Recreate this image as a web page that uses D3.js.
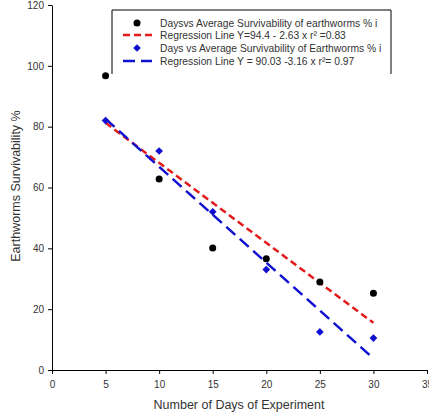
<html>
<head>
<meta charset="utf-8">
<title>Earthworm survivability</title>
<script src="https://d3js.org/d3.v7.min.js"></script>
<style>
  body { margin: 0; background: #fff; }
  text { font-family: "Liberation Sans", Arial, sans-serif; fill: #333; }
</style>
</head>
<body>
<svg width="429" height="414"></svg>
<script>
// data
var days = [5, 10, 15, 20, 25, 30];
var survLower = [96.7, 62.8, 40.1, 36.6, 28.9, 25.2];   // black circles
var survUpper = [82.0, 72.0, 52.0, 33.0, 12.5, 10.5];   // blue diamonds
// regression lines as drawn (intercept, slope), over days 5..30
var regRed = {a: 94.4, b: -2.63};
var regBlue = {a: 98.3, b: -3.15};
var xTicks = [0, 5, 10, 15, 20, 25, 30, 35];
var yTicks = [0, 20, 40, 60, 80, 100, 120];
var legendLabels = [
  "Daysvs Average Survivability of earthworms % i",
  "Regression Line Y=94.4 - 2.63 x  r\u00b2 =0.83",
  "Days vs Average Survivability of Earthworms % i",
  "Regression Line Y = 90.03 -3.16 x  r\u00b2= 0.97"
];

var svg = d3.select("svg");
var x = d3.scaleLinear().domain([0, 35]).range([52, 427]);
var y = d3.scaleLinear().domain([0, 120]).range([370, 5]);

// axes
var xAxis = svg.append("g")
  .attr("transform", "translate(0,370)")
  .call(d3.axisBottom(x).tickValues(xTicks).tickSize(4).tickSizeOuter(0).tickPadding(7));
var yAxis = svg.append("g")
  .attr("transform", "translate(52,0)")
  .call(d3.axisLeft(y).tickValues(yTicks).tickSize(4).tickSizeOuter(0).tickPadding(4));
[xAxis, yAxis].forEach(function(a){
  a.selectAll("path, line").attr("stroke", "#000");
  a.selectAll("text").attr("font-size", "10px").attr("fill", "#333")
   .style("font-family", "'Liberation Sans', Arial, sans-serif");
});

svg.append("text")
  .attr("x", 239).attr("y", 409)
  .attr("text-anchor", "middle")
  .attr("font-size", "12.5px")
  .text("Number of Days of Experiment");
svg.append("text")
  .attr("transform", "translate(20,186) rotate(-90)")
  .attr("text-anchor", "middle")
  .attr("font-size", "12.5px")
  .text("Earthworms Survivability %");

// regression lines
var line = d3.line().x(d => x(d[0])).y(d => y(d[1]));
function regPts(r){ return [5, 30].map(d => [d, r.a + r.b * d]); }

svg.append("path")
  .datum(regPts(regRed))
  .attr("d", line)
  .attr("fill", "none").attr("stroke", "#e31a1c")
  .attr("stroke-width", 2.5).attr("stroke-dasharray", "7,4");
svg.append("path")
  .datum(regPts(regBlue))
  .attr("d", line)
  .attr("fill", "none").attr("stroke", "#1010d0")
  .attr("stroke-width", 2.5).attr("stroke-dasharray", "12,6");

// points
svg.selectAll(".dot")
  .data(days.map((d, i) => [d, survLower[i]]))
  .enter().append("circle")
  .attr("class", "dot")
  .attr("cx", d => x(d[0])).attr("cy", d => y(d[1]))
  .attr("r", 3.5).attr("fill", "#000");

var diamond = d3.symbol().type(d3.symbolSquare).size(30);
svg.selectAll(".dia")
  .data(days.map((d, i) => [d, survUpper[i]]))
  .enter().append("path")
  .attr("class", "dia")
  .attr("d", diamond)
  .attr("transform", d => `translate(${x(d[0])},${y(d[1])}) rotate(45)`)
  .attr("fill", "#1010d0");

// legend
var lg = svg.append("g");
lg.append("path")
  .attr("d", "M112,74V10H391V74")
  .attr("fill", "none").attr("stroke", "#000").attr("stroke-width", 1);
var rowY = [23, 35, 48, 61];
lg.append("circle").attr("cx", 137).attr("cy", rowY[0]).attr("r", 3.5).attr("fill", "#000");
lg.append("line").attr("x1", 123).attr("x2", 152).attr("y1", rowY[1]).attr("y2", rowY[1])
  .attr("stroke", "#e31a1c").attr("stroke-width", 2.5).attr("stroke-dasharray", "7,4");
lg.append("path").attr("d", diamond)
  .attr("transform", `translate(137,${rowY[2]}) rotate(45)`).attr("fill", "#1010d0");
lg.append("line").attr("x1", 123).attr("x2", 152).attr("y1", rowY[3]).attr("y2", rowY[3])
  .attr("stroke", "#1010d0").attr("stroke-width", 2.5).attr("stroke-dasharray", "12,6");
lg.selectAll(".lt")
  .data(legendLabels)
  .enter().append("text")
  .attr("class", "lt")
  .attr("x", 160).attr("y", (d, i) => rowY[i] + 3.5)
  .attr("font-size", "10.3px")
  .text(d => d);
</script>
</body>
</html>
